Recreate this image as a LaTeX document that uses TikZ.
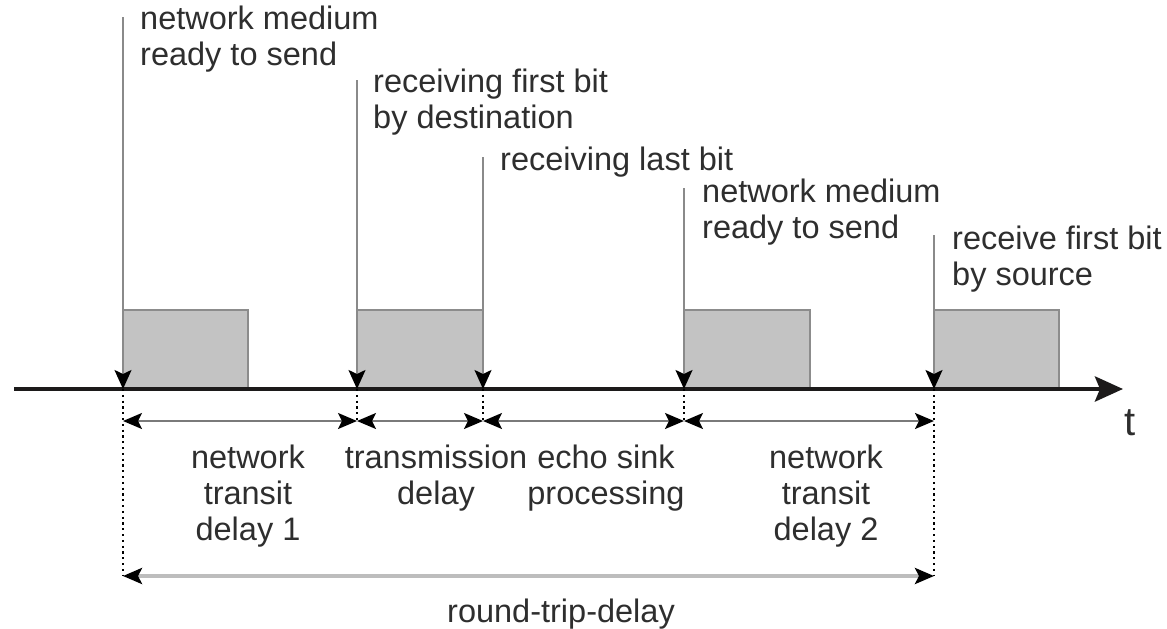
\documentclass[tikz,border=0pt]{standalone}
\usepackage{fontspec}
\setmainfont{Liberation Sans}
\usetikzlibrary{arrows.meta}
\definecolor{txt}{HTML}{2E2E2E}
\definecolor{boxfill}{HTML}{C3C3C3}
\definecolor{boxedge}{HTML}{8C8C8C}
\definecolor{vline}{HTML}{8A8A8A}
\definecolor{dimline}{HTML}{7A7A7A}
\definecolor{rtline}{HTML}{BDBDBD}
\definecolor{axiscol}{HTML}{1C1A1A}
\tikzset{
  lbl/.style={inner sep=0pt, text=txt, font=\fontsize{32.5}{36}\selectfont},
  mlbl/.style={lbl, align=left},
  clbl/.style={lbl, align=center},
  pkt/.style={fill=boxfill, draw=boxedge, line width=1.5pt},
  marker/.style={draw=vline, line width=2pt, -{Stealth[length=19pt,width=17pt,inset=4pt,color=black]}},
  dots/.style={draw=black, line width=2.2pt, dash pattern=on 2.2pt off 3.6pt},
  dimarrow/.style={draw=dimline, line width=1.8pt, {Stealth[length=19pt,width=16pt,inset=4pt,color=black]}-{Stealth[length=19pt,width=16pt,inset=4pt,color=black]}},
  rtarrow/.style={draw=rtline, line width=3.5pt, {Stealth[length=19pt,width=16pt,inset=4pt,color=black]}-{Stealth[length=19pt,width=16pt,inset=4pt,color=black]}},
  axisline/.style={draw=axiscol, line width=4.5pt, -{Stealth[length=28pt,width=25pt,inset=5pt]}}
}
\begin{document}
\begin{tikzpicture}[x=1pt,y=-1pt]
\useasboundingbox (0,0) rectangle (1167,629);
% marker points on the axis
\coordinate (m1) at (123,389);
\coordinate (m2) at (357,389);
\coordinate (m3) at (483,389);
\coordinate (m4) at (684,389);
\coordinate (m5) at (934,389);
% tops of marker lines
\coordinate (t1) at (123,17);
\coordinate (t2) at (357,80);
\coordinate (t3) at (483,157);
\coordinate (t4) at (684,188);
\coordinate (t5) at (934,235);
% dimension line points
\coordinate (d1) at (123,421);
\coordinate (d2) at (357,421);
\coordinate (d3) at (483,421);
\coordinate (d4) at (684,421);
\coordinate (d5) at (934,421);
\coordinate (r1) at (123,576);
\coordinate (r5) at (934,576);
% axis end points
\coordinate (a0) at (14,389);
\coordinate (a1) at (1123,389);
% packets
\path[pkt] (123,310) rectangle (248,389);
\path[pkt] (357,310) rectangle (483,389);
\path[pkt] (684,310) rectangle (810,389);
\path[pkt] (934,310) rectangle (1059,389);
% time axis
\draw[axisline] (a0) -- (a1);
\node[lbl, font=\fontsize{40}{44}\selectfont, anchor=base west] (tlab) at (1124,435) {t};
% marker lines
\draw[marker] (t1) -- (m1);
\draw[marker] (t2) -- (m2);
\draw[marker] (t3) -- (m3);
\draw[marker] (t4) -- (m4);
\draw[marker] (t5) -- (m5);
% dotted extensions
\draw[dots] (m1) -- (r1);
\draw[dots] (m2) -- (d2);
\draw[dots] (m3) -- (d3);
\draw[dots] (m4) -- (d4);
\draw[dots] (m5) -- (r5);
% dimension arrows
\draw[dimarrow] (d1) -- (d2);
\draw[dimarrow] (d2) -- (d3);
\draw[dimarrow] (d3) -- (d4);
\draw[dimarrow] (d4) -- (d5);
\draw[rtarrow] (r1) -- (r5);
% top labels (base anchor = baseline of last line)
\node[mlbl, anchor=base west] (l1) at (140,65) {network medium\\ready to send};
\node[mlbl, anchor=base west] (l2) at (373,128) {receiving first bit\\by destination};
\node[mlbl, anchor=base west] (l3) at (500,170) {receiving last bit};
\node[mlbl, anchor=base west] (l4) at (702,238) {network medium\\ready to send};
\node[mlbl, anchor=base west] (l5) at (952,285) {receive first bit\\by source};
% bottom labels
\node[clbl, anchor=base] (b1) at (248,540) {network\\transit\\delay 1};
\node[clbl, anchor=base] (b2) at (436,504) {transmission\\delay};
\node[clbl, anchor=base] (b3) at (606,504) {echo sink\\processing};
\node[clbl, anchor=base] (b4) at (826,540) {network\\transit\\delay 2};
\node[lbl, anchor=base] (b5) at (561,622) {round-trip-delay};
\end{tikzpicture}
\end{document}
